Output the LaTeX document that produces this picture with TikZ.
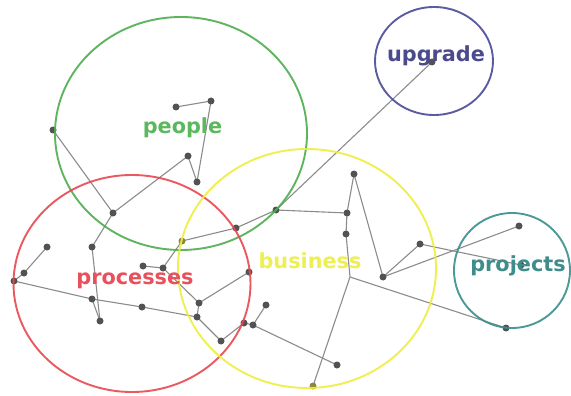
\documentclass[tikz,border=0pt]{standalone}
\usepackage{fontspec}
\setmainfont{DejaVu Sans}
\begin{document}
\begin{tikzpicture}[x=1pt,y=-1pt]
\definecolor{cgreen}{HTML}{4EAE4E}
\definecolor{cred}{HTML}{E8474F}
\definecolor{cyellow}{HTML}{EEEE3C}
\definecolor{cpurple}{HTML}{4A4A98}
\definecolor{cteal}{HTML}{3A8F8F}
\definecolor{tgreen}{HTML}{5CB85C}
\definecolor{tred}{HTML}{E8505C}
\definecolor{tyellow}{HTML}{EEEE55}
\definecolor{tpurple}{HTML}{4A4A8C}
\definecolor{tteal}{HTML}{3F8C8C}
\tikzset{
  link/.style={draw=black!45, line width=1.1pt},
  dot/.style={circle, fill=black!68, inner sep=0pt, minimum size=7pt},
  ring/.style={line width=1.9pt, opacity=0.9},
  lbl/.style={anchor=base, inner sep=0pt, font=\bfseries\fontsize{20.8}{22}\selectfont}
}
\useasboundingbox (0,0) rectangle (571,396);
\fill[white] (0,0) rectangle (571,396);
% points
\coordinate (p1) at (53,130);
\coordinate (p2) at (113,213);
\coordinate (p3) at (188,156);
\coordinate (p4) at (197,182);
\coordinate (p5) at (176,107);
\coordinate (p6) at (211,101);
\coordinate (q1) at (92,247);
\coordinate (q2) at (47,247);
\coordinate (q3) at (24,273);
\coordinate (q4) at (14,281);
\coordinate (q5) at (92,299);
\coordinate (q6) at (100,321);
\coordinate (q7) at (142,307);
\coordinate (q8) at (197,317);
\coordinate (q9) at (199,303);
\coordinate (q10) at (249,272);
\coordinate (q11) at (221,341);
\coordinate (q12) at (244,323);
\coordinate (q13) at (253,325);
\coordinate (q14) at (266,305);
\coordinate (q15) at (143,266);
\coordinate (q16) at (163,268);
\coordinate (q17) at (182,241);
\coordinate (r3) at (276,210);
\coordinate (r4) at (236,228);
\coordinate (r6) at (354,174);
\coordinate (r7) at (347,213);
\coordinate (r8) at (346,234);
\coordinate (r9) at (350,277);
\coordinate (r10) at (383,277);
\coordinate (r11) at (420,244);
\coordinate (r12) at (337,365);
\coordinate (r13) at (313,386);
\coordinate (s3) at (519,226);
\coordinate (s4) at (521,265);
\coordinate (s5) at (506,328);
\coordinate (u1) at (432,62);
% links
\draw[link] (p1) -- (p2) -- (p3) -- (p4) -- (p6) -- (p5);
\draw[link] (p2) -- (q1) -- (q6);
\draw[link] (q2) -- (q3) -- (q4);
\draw[link] (q4) -- (q5) -- (q7) -- (q8);
\draw[link] (q5) -- (q6);
\draw[link] (q15) -- (q16) -- (q17) -- (r4) -- (r3) -- (u1);
\draw[link] (q16) -- (q9) -- (q8);
\draw[link] (q9) -- (q10);
\draw[link] (q8) -- (q11) -- (q12) -- (q13) -- (q14);
\draw[link] (q13) -- (r12);
\draw[link] (r3) -- (r7) -- (r6) -- (r10);
\draw[link] (r7) -- (r8) -- (r9) -- (r13);
\draw[link] (r9) -- (s5);
\draw[link] (r10) -- (r11) -- (s4);
\draw[link] (r10) -- (s3);
% dots
\foreach \n in {p1,p2,p3,p4,p5,p6,q1,q2,q3,q4,q5,q6,q7,q8,q9,q10,q11,q12,q13,q14,q15,q16,r3,r4,r6,r7,r8,r10,r11,r12,s3,s4,s5,u1}
  \node[dot] (d\n) at (\n) {};
\node[dot, fill=olive!70!black!80] (dq17) at (q17) {};
\node[dot, fill=olive!70!black!80] (dr13) at (r13) {};
% rings
\draw[ring, cgreen] (181,133.5) ellipse [x radius=126, y radius=116.5];
\draw[ring, cred] (132,283.5) ellipse [x radius=118.5, y radius=108.5];
\draw[ring, cyellow] (307,268.5) ellipse [x radius=129, y radius=119.5];
\draw[ring, cpurple] (434,61) ellipse [x radius=59, y radius=54];
\draw[ring, cteal] (512,270.5) ellipse [x radius=58, y radius=57.5];
% labels
\node[lbl, text=tgreen] (people) at (182.5,133) {people};
\node[lbl, text=tred] (processes) at (135,284) {processes};
\node[lbl, text=tyellow] (business) at (310,268) {business};
\node[lbl, text=tpurple] (upgrade) at (436,62) {upgrade};
\node[lbl, text=tteal] (projects) at (518,271) {projects};
\end{tikzpicture}
\end{document}
